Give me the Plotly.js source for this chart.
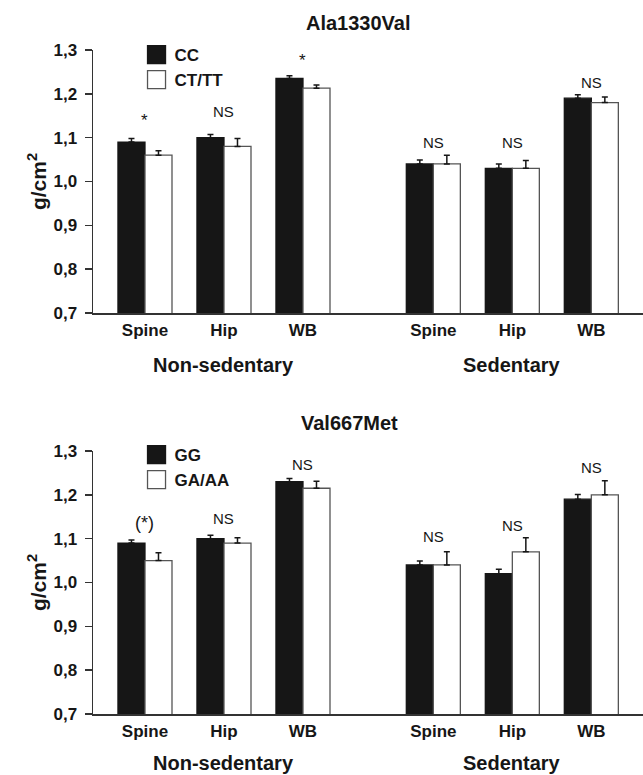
<!DOCTYPE html>
<html><head><meta charset="utf-8">
<script src="https://cdn.plot.ly/plotly-3.0.1.min.js"></script>
<style>html,body{margin:0;padding:0;background:#fff}</style>
</head><body><div id="chart" style="width:643px;height:775px"></div>
<script>
// ---- data ----
const sites = ['Spine','Hip','WB','Spine','Hip','WB'];
const sitePos = [1,2,3,4.65,5.65,6.65];
const groups = ['Non-sedentary','Sedentary'];
const groupPos = [2,5.65];
const yTicks = [0.7,0.8,0.9,1.0,1.1,1.2,1.3];
const yTickText = ['0,7','0,8','0,9','1,0','1,1','1,2','1,3'];

const alaTitle = 'Ala1330Val';
const alaNames = ['CC','CT/TT'];
const alaCC    = [1.090,1.100,1.235,1.040,1.030,1.190];
const alaCCerr = [0.008,0.007,0.006,0.009,0.010,0.008];
const alaCT    = [1.060,1.080,1.213,1.040,1.030,1.180];
const alaCTerr = [0.010,0.018,0.007,0.020,0.018,0.013];
const alaSig   = ['*','NS','*','NS','NS','NS'];
const alaSigY  = [1.140,1.159,1.277,1.088,1.088,1.225];

const valTitle = 'Val667Met';
const valNames = ['GG','GA/AA'];
const valGG    = [1.090,1.100,1.230,1.040,1.020,1.190];
const valGGerr = [0.007,0.008,0.007,0.009,0.010,0.011];
const valGA    = [1.050,1.090,1.215,1.040,1.070,1.200];
const valGAerr = [0.018,0.012,0.016,0.030,0.032,0.032];
const valSig   = ['(*)','NS','NS','NS','NS','NS'];
const valSigY  = [1.136,1.147,1.270,1.104,1.131,1.263];

// ---- styles ----
const FONT = 'Liberation Sans, Arial, Helvetica, sans-serif';
const INK = '#161616';

function barTrace(y, err, name, fill, edge, xa, ya, lg) {
  return {
    type:'bar', x:sitePos, y:y, name:name, xaxis:xa, yaxis:ya, legend:lg,
    marker:{color:fill, line:{color:edge, width:1.3}},
    error_y:{type:'data', array:err, arrayminus:err.map(()=>0), symmetric:false,
             color:INK, thickness:1.5, width:3},
    hoverinfo:'x+y'
  };
}

const data = [
  barTrace(alaCC, alaCCerr, alaNames[0], INK, INK, 'x', 'y', 'legend'),
  barTrace(alaCT, alaCTerr, alaNames[1], '#ffffff', '#555', 'x', 'y', 'legend'),
  barTrace(valGG, valGGerr, valNames[0], INK, INK, 'x2', 'y2', 'legend2'),
  barTrace(valGA, valGAerr, valNames[1], '#ffffff', '#555', 'x2', 'y2', 'legend2')
];

function xAxis(anchor) {
  return {domain:[0,1], range:[0.342,7.304], anchor:anchor,
    tickvals:sitePos, ticktext:sites, ticks:'', showgrid:false, zeroline:false,
    showline:true, linecolor:'#333', linewidth:1.5,
    tickfont:{family:FONT, size:17, color:INK, weight:700}, ticklabelstandoff:1};
}
function yAxis(anchor, dom) {
  return {domain:dom, range:[0.7,1.3], anchor:anchor,
    tickvals:yTicks, ticktext:yTickText, ticks:'outside', ticklen:7, tickwidth:1.5,
    tickcolor:'#333', showgrid:false, zeroline:false, showline:true, linecolor:'#333', linewidth:1.5,
    tickfont:{family:FONT, size:17, color:INK, weight:700}, ticklabelstandoff:4,
    title:{text:'g/cm<sup>2</sup>', font:{family:FONT, size:21, color:INK, weight:700}, standoff:1}};
}

const annotations = [];
function panelAnn(title, titleX, titleY, sig, sigY, xa, ya, groupY) {
  annotations.push({text:title, xref:'paper', yref:'paper', x:titleX, y:titleY,
    xanchor:'center', yanchor:'middle',
    showarrow:false, font:{family:FONT, size:20, color:INK, weight:700}});
  groups.forEach((g,i)=>annotations.push({text:g, xref:xa, yref:'paper', x:groupPos[i], y:groupY,
    xanchor:'center', yanchor:'middle',
    showarrow:false, font:{family:FONT, size:20, color:INK, weight:700}}));
  sig.forEach((s,i)=>annotations.push({text:s, xref:xa, yref:ya, x:sitePos[i], y:sigY[i],
    xanchor:'center', yanchor:'middle',
    showarrow:false, font:{family:FONT, size:s==='NS'?15:(s==='*'?17:18), color:INK}}));
}
panelAnn(alaTitle, 0.4836, 1-23/775, alaSig, alaSigY, 'x', 'y', 1-365/775);
panelAnn(valTitle, 0.467, 1-423/775, valSig, valSigY, 'x2', 'y2', 1-763/775);

const legendStyle = (y)=>({x:0.0755, y:y, xanchor:'left', yanchor:'top', bgcolor:'rgba(0,0,0,0)',
  font:{family:FONT, size:17, color:INK, weight:700}, tracegroupgap:0, itemwidth:30});

const layout = {
  width:643, height:775, margin:{l:93, r:0, t:0, b:0},
  paper_bgcolor:'#fff', plot_bgcolor:'#fff',
  barmode:'group', bargap:0.316, bargroupgap:0,
  xaxis:xAxis('y'), yaxis:yAxis('x',[1-313/775, 1-50/775]),
  xaxis2:xAxis('y2'), yaxis2:yAxis('x2',[1-714/775, 1-451/775]),
  legend:legendStyle(1-37/775), legend2:legendStyle(1-437/775),
  annotations:annotations, showlegend:true
};

Plotly.newPlot('chart', data, layout, {displayModeBar:false, staticPlot:true}).then(gd=>{
  // enlarge legend swatches to the reference's 18px squares
  gd.querySelectorAll('.legendpoints path').forEach(p=>p.setAttribute('d','M11,9H-7V-9H11Z'));
});
</script></body></html>
